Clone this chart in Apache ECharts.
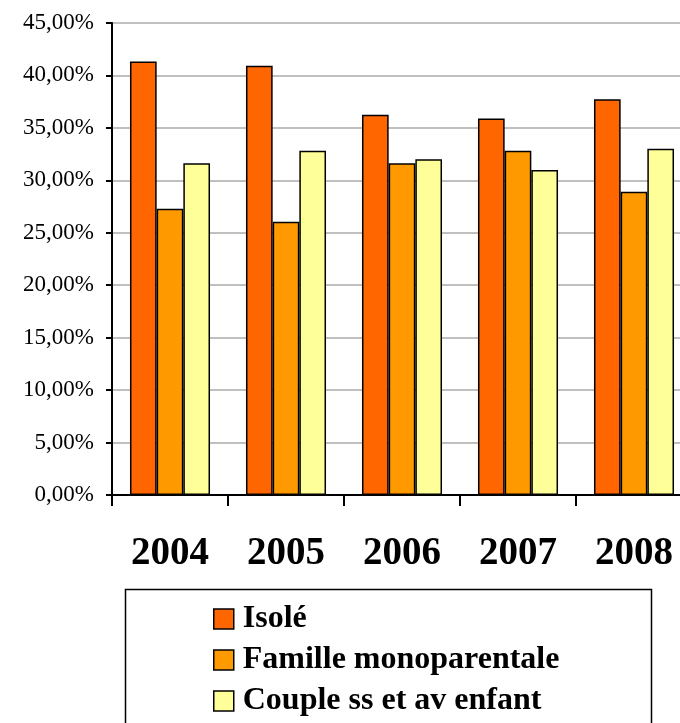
<!DOCTYPE html>
<html>
<head>
<meta charset="utf-8">
<script src="https://cdn.jsdelivr.net/npm/echarts@6/dist/echarts.min.js"></script>
<style>
  html, body { margin: 0; padding: 0; background: #fff; }
  #chart { width: 680px; height: 723px; }
</style>
</head>
<body>
<div id="chart"></div>
<script>
// Years on the category axis
const years = ['2004', '2005', '2006', '2007', '2008'];

// Shares per household type (percent)
const isole = [41.34, 40.93, 36.25, 35.90, 37.72];
const familleMono = [27.29, 26.05, 31.62, 32.82, 28.91];
const couple = [31.62, 32.82, 32.00, 30.98, 33.01];

const seriesNames = ['Isolé', 'Famille monoparentale', 'Couple ss et av enfant'];
const seriesColors = ['#FF6600', '#FF9900', '#FFFF99'];

const yMin = 0, yMax = 45, yStep = 5;

const serif = '"Liberation Serif", "DejaVu Serif", serif';

const chart = echarts.init(document.getElementById('chart'));

function barSeries(name, data, color) {
  return {
    name: name,
    type: 'bar',
    data: data,
    barGap: '0%',
    barCategoryGap: '31%',
    itemStyle: { color: color, borderColor: '#000', borderWidth: 1.5 },
    emphasis: { disabled: true }
  };
}

chart.setOption({
  animation: false,
  backgroundColor: '#fff',
  grid: {
    left: 112, top: 23, right: -12, bottom: 228,
    outerBoundsMode: 'none',
    show: true, borderColor: '#000', borderWidth: 2, backgroundColor: 'transparent'
  },
  xAxis: {
    type: 'category',
    data: years,
    axisLine: { lineStyle: { color: '#000', width: 2 } },
    axisTick: { show: true, length: 11, lineStyle: { color: '#000', width: 2 } },
    axisLabel: {
      margin: 39,
      fontFamily: serif, fontWeight: 'bold', fontSize: 39, color: '#000'
    }
  },
  yAxis: {
    type: 'value',
    min: yMin, max: yMax, interval: yStep,
    axisLine: { show: true, lineStyle: { color: '#000', width: 2 } },
    axisTick: { show: true, length: 6, lineStyle: { color: '#000', width: 2 } },
    splitLine: { lineStyle: { color: '#C0C0C0', width: 2 } },
    axisLabel: {
      margin: 18,
      fontFamily: serif, fontSize: 23, color: '#000',
      formatter: v => v.toFixed(2).replace('.', ',') + '%'
    }
  },
  legend: {
    orient: 'vertical',
    left: 213, top: 603,
    padding: 0,
    itemWidth: 20, itemHeight: 20,
    itemGap: 9,
    icon: 'rect',
    itemStyle: { borderColor: '#000', borderWidth: 1.5 },
    textStyle: { fontFamily: serif, fontWeight: 'bold', fontSize: 32, color: '#000', padding: [0, 0, 0, 4] },
    data: seriesNames
  },
  graphic: [{
    type: 'rect',
    shape: { x: 125.5, y: 589.5, width: 526, height: 160 },
    style: { fill: 'none', stroke: '#000', lineWidth: 1.5 },
    silent: true
  }],
  series: [
    barSeries(seriesNames[0], isole, seriesColors[0]),
    barSeries(seriesNames[1], familleMono, seriesColors[1]),
    barSeries(seriesNames[2], couple, seriesColors[2])
  ]
});
</script>
</body>
</html>
